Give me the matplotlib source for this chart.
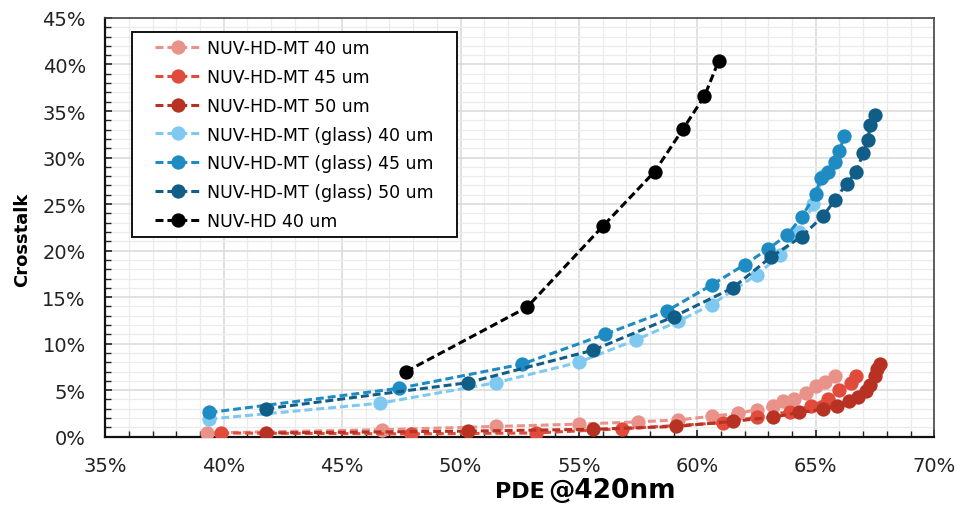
import matplotlib
matplotlib.use('Agg')
import matplotlib.pyplot as plt
from matplotlib.lines import Line2D
from matplotlib.legend_handler import HandlerLine2D
from matplotlib.ticker import MultipleLocator, FuncFormatter

# --- Data (PDE %, crosstalk %) ---
mt40_x = [39.3, 46.7, 51.5, 55.0, 57.5, 59.2, 60.6, 61.7, 62.5, 63.2, 63.6, 64.1, 64.6, 65.0, 65.4, 65.8]
mt40_y = [0.4, 0.75, 1.1, 1.35, 1.6, 1.8, 2.2, 2.5, 2.9, 3.3, 3.8, 4.1, 4.7, 5.4, 5.9, 6.5]

mt45_x = [39.9, 47.9, 53.2, 56.8, 61.1, 62.5, 63.9, 64.8, 65.5, 66.0, 66.5, 66.7]
mt45_y = [0.4, 0.3, 0.4, 0.85, 1.5, 2.1, 2.7, 3.25, 4.1, 5.0, 5.75, 6.5]

mt50_x = [41.8, 50.3, 55.6, 59.1, 61.5, 63.2, 64.3, 65.3, 65.9, 66.4, 66.8, 67.1, 67.3, 67.5, 67.6, 67.7]
mt50_y = [0.4, 0.6, 0.8, 1.1, 1.65, 2.1, 2.6, 2.95, 3.3, 3.8, 4.3, 4.9, 5.6, 6.5, 7.3, 7.8]

gl40_x = [39.4, 46.6, 51.5, 55.0, 57.4, 59.2, 60.6, 62.5, 63.5, 64.3, 64.9, 65.3]
gl40_y = [1.9, 3.6, 5.8, 8.0, 10.4, 12.4, 14.2, 17.4, 19.5, 22.0, 25.0, 28.0]

gl45_x = [39.4, 47.4, 52.6, 56.1, 58.7, 60.6, 62.0, 63.0, 63.8, 64.4, 65.0, 65.2, 65.5, 65.8, 66.0, 66.2]
gl45_y = [2.6, 5.2, 7.8, 11.0, 13.5, 16.3, 18.5, 20.2, 21.7, 23.6, 26.1, 27.8, 28.5, 29.5, 30.7, 32.3]

gl50_x = [41.8, 50.3, 55.6, 59.0, 61.5, 63.1, 64.4, 65.3, 65.8, 66.3, 66.7, 67.0, 67.2, 67.3, 67.5]
gl50_y = [3.0, 5.8, 9.3, 12.9, 16.0, 19.3, 21.5, 23.7, 25.4, 27.2, 28.4, 30.5, 31.9, 33.5, 34.6]

hd40_x = [47.7, 52.8, 56.0, 58.2, 59.4, 60.3, 60.9]
hd40_y = [7.0, 13.9, 22.6, 28.5, 33.1, 36.6, 40.4]

labels = ['NUV-HD-MT 40 um', 'NUV-HD-MT 45 um', 'NUV-HD-MT 50 um',
          'NUV-HD-MT (glass) 40 um', 'NUV-HD-MT (glass) 45 um',
          'NUV-HD-MT (glass) 50 um', 'NUV-HD 40 um']
colors = ['#E8928A', '#E04B3B', '#B83224', '#7FC9F1', '#1E8BC3', '#105E87', '#000000']
series = [(mt40_x, mt40_y), (mt45_x, mt45_y), (mt50_x, mt50_y),
          (gl40_x, gl40_y), (gl45_x, gl45_y), (gl50_x, gl50_y),
          (hd40_x, hd40_y)]

# --- Plotting ---
fig = plt.figure(figsize=(9.57, 5.06), dpi=100)
ax = fig.add_axes([0.110, 0.135, 0.8662, 0.8275])

for (xs, ys), c, lab in zip(series, colors, labels):
    ax.plot(xs, ys, color=c, linestyle=(0, (2.6, 1.3)), linewidth=2.2,
            marker='o', markersize=10.3, markeredgewidth=0, label=lab, zorder=3)

ax.set_xlim(35, 70)
ax.set_ylim(0, 45)
ax.xaxis.set_major_locator(MultipleLocator(5))
ax.xaxis.set_minor_locator(MultipleLocator(1))
ax.yaxis.set_major_locator(MultipleLocator(5))
ax.yaxis.set_minor_locator(MultipleLocator(1))
pct = FuncFormatter(lambda v, p: f'{v:.0f}%')
ax.xaxis.set_major_formatter(pct)
ax.yaxis.set_major_formatter(pct)

ax.grid(which='major', color='#d9d9d9', linewidth=1.1, zorder=0)
ax.grid(which='minor', color='#ebebeb', linewidth=0.9, zorder=0)
ax.set_axisbelow(True)

ax.tick_params(axis='both', which='both', direction='in', labelsize=14,
               colors='#222222', pad=14)
ax.tick_params(which='major', length=5, width=1.2)
ax.tick_params(which='minor', length=4, width=1.0)
ax.tick_params(top=False, right=False, which='both')

for side in ['left', 'bottom']:
    ax.spines[side].set_linewidth(1.6)
    ax.spines[side].set_color('#111111')
for side in ['top', 'right']:
    ax.spines[side].set_linewidth(1.2)
    ax.spines[side].set_color('#444444')

ax.set_ylabel('Crosstalk', fontsize=13, fontweight='bold')
ax.yaxis.set_label_coords(-0.089, 0.472)

# x label: "PDE" smaller, "@420nm" larger
fig.text(0.517, 0.016, 'PDE', fontsize=16, fontweight='bold', va='baseline')
fig.text(0.573, 0.016, '@420nm', fontsize=19, fontweight='bold', va='baseline')

# --- Legend ---
handles, labs = ax.get_legend_handles_labels()
labs = [l + '   ' if 'glass) 40' in l else l for l in labs]
leg = ax.legend(handles, labs, loc='upper left', bbox_to_anchor=(0.032, 0.967),
                fontsize=12.5, frameon=True, fancybox=False, shadow=False,
                borderpad=0.4, labelspacing=0.63, handlelength=3.62,
                handletextpad=0.3, borderaxespad=0,
                handler_map={Line2D: HandlerLine2D(xpad=0.94)})
leg.get_frame().set_edgecolor('#111111')
leg.get_frame().set_linewidth(1.4)
leg.get_frame().set_alpha(1)
leg.set_zorder(5)

plt.savefig('out.png', dpi=100)
